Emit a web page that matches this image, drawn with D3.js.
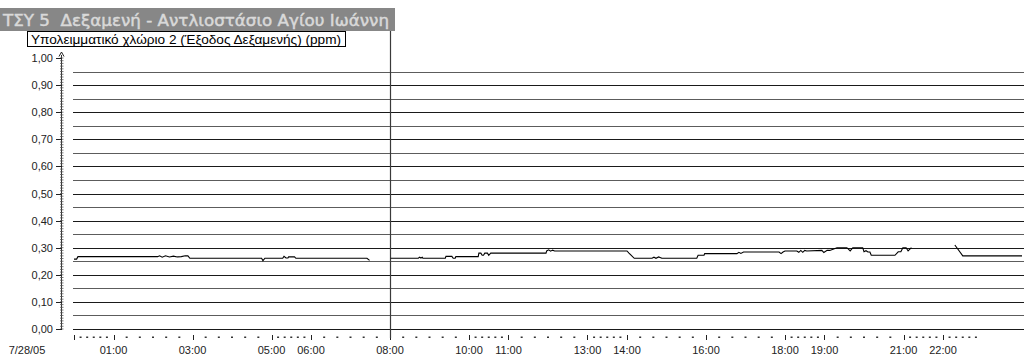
<!DOCTYPE html>
<html>
<head>
<meta charset="utf-8">
<script src="https://cdn.jsdelivr.net/npm/d3@7/dist/d3.min.js"></script>
<style>
  html, body { margin: 0; padding: 0; background: #fff; }
  svg { display: block; }
  text { font-family: "Liberation Sans", Arial, sans-serif; }
</style>
</head>
<body>
<svg id="chart" width="1024" height="356"></svg>
<script>
// Trend title, pen legend and axis labels
const titleText = "ΤΣΥ 5  Δεξαμενή - Αντλιοστάσιο Αγίου Ιωάννη";
const penLabel = "Υπολειμματικό χλώριο 2 (Έξοδος Δεξαμενής) (ppm)";
const dateLabel = "7/28/05";
const hourLabels = ["01:00", "03:00", "05:00", "06:00", "08:00", "10:00", "11:00",
                    "13:00", "14:00", "16:00", "18:00", "19:00", "21:00", "22:00"];
const yTicks = [0, 0.1, 0.2, 0.3, 0.4, 0.5, 0.6, 0.7, 0.8, 0.9, 1.0];
const yHalfTicks = [0.05, 0.15, 0.25, 0.35, 0.45, 0.55, 0.65, 0.75, 0.85, 0.95];

// Residual chlorine readings (ppm), three logged segments separated by gaps
const seg1Times = ["00:00", "00:04", "00:06", "02:07", "02:10", "02:14", "02:19", "02:25", "02:31",
                   "02:37", "02:43", "02:49", "02:53", "02:56", "04:45", "04:47", "04:50", "05:17",
                   "05:19", "05:22", "05:25", "05:26", "05:35", "05:37", "07:25", "07:29"];
const seg1Values = [0.258, 0.258, 0.267, 0.267, 0.270, 0.265, 0.270, 0.266, 0.269,
                    0.266, 0.267, 0.270, 0.270, 0.261, 0.261, 0.252, 0.261, 0.261,
                    0.268, 0.262, 0.262, 0.266, 0.266, 0.261, 0.261, 0.253];

const seg2Times = ["08:01", "08:43", "08:45", "08:47", "08:49", "08:50", "09:24", "09:25", "09:34",
                   "09:36", "09:39", "09:40", "10:14", "10:15", "10:18", "10:20", "10:22", "10:24",
                   "10:28", "10:30", "10:33", "11:57", "11:58", "12:01", "12:04", "12:07", "12:10",
                   "14:00", "14:03", "14:11", "14:38", "14:41", "14:44", "14:48", "14:53", "15:46",
                   "15:48", "15:57", "15:58", "16:47", "16:50", "16:53", "16:57", "17:51", "17:54",
                   "17:57", "18:00", "18:18", "18:21", "18:24", "18:27", "18:30", "18:33", "18:56",
                   "18:59", "19:04", "19:08", "19:19", "19:34", "19:39", "19:43", "19:58", "20:00",
                   "20:03", "20:06", "20:09", "20:11", "20:47", "20:52", "20:56", "20:59", "21:04",
                   "21:07", "21:12"];
const seg2Values = [0.261, 0.261, 0.265, 0.262, 0.265, 0.261, 0.261, 0.268, 0.268,
                    0.261, 0.261, 0.267, 0.267, 0.280, 0.280, 0.272, 0.272, 0.280,
                    0.280, 0.272, 0.280, 0.280, 0.288, 0.292, 0.287, 0.291, 0.288,
                    0.288, 0.280, 0.261, 0.261, 0.265, 0.261, 0.266, 0.261, 0.261,
                    0.272, 0.272, 0.278, 0.278, 0.283, 0.279, 0.284, 0.284, 0.278,
                    0.284, 0.288, 0.288, 0.283, 0.290, 0.283, 0.290, 0.288, 0.290,
                    0.282, 0.290, 0.290, 0.300, 0.300, 0.288, 0.300, 0.300, 0.285,
                    0.289, 0.284, 0.284, 0.272, 0.272, 0.285, 0.285, 0.300, 0.300,
                    0.288, 0.300];

const seg3Times = ["22:18", "22:30", "24:00"];
const seg3Values = [0.310, 0.270, 0.270];

// Minor tick positions on the time axis (ten-minute steps between one-hour labels,
// twenty-minute steps between two-hour labels)
const timeTickMarks = [];

const svg = d3.select("#chart");

const toHours = s => { const [h, m] = s.split(":").map(Number); return h + m / 60; };

const x = d3.scaleLinear().domain([0, 24]).range([74, 1022]);
const y = d3.scaleLinear().domain([0, 1]).range([329, 58]);

const commaFmt = d3.formatLocale({ decimal: ",", thousands: ".", grouping: [3], currency: ["", ""] }).format(".2f");

// --- title bar ---
svg.append("rect").attr("x", 0).attr("y", 8).attr("width", 395).attr("height", 23)
  .attr("fill", "#878787");
svg.append("text").attr("x", 3).attr("y", 26)
  .attr("fill", "#d9d9d9").attr("stroke", "#d9d9d9").attr("stroke-width", 0.45)
  .style("font-family", "'DejaVu Sans', Verdana, sans-serif")
  .style("font-size", "15px").style("font-weight", "normal")
  .style("white-space", "pre")
  .attr("textLength", 386).attr("lengthAdjust", "spacingAndGlyphs")
  .text(titleText);

// --- horizontal grid lines ---
const grid = svg.append("g");
grid.selectAll("line.half").data(yHalfTicks).join("line")
  .attr("class", "half")
  .attr("x1", 73).attr("x2", 1024)
  .attr("y1", d => Math.round(y(d)) + 0.5).attr("y2", d => Math.round(y(d)) + 0.5)
  .attr("stroke", "#5c5c5c").attr("stroke-width", 1.2);
grid.selectAll("line.major").data(yTicks.filter(d => d < 1)).join("line")
  .attr("class", "major")
  .attr("x1", 73).attr("x2", 1024)
  .attr("y1", d => Math.round(y(d)) + 0.5).attr("y2", d => Math.round(y(d)) + 0.5)
  .attr("stroke", "#1a1a1a").attr("stroke-width", 1.1);

// --- y axis (ruler style) ---
const yAxisG = svg.append("g");
yAxisG.append("line").attr("x1", 61.5).attr("x2", 61.5)
  .attr("y1", y(1) - 3).attr("y2", y(0)).attr("stroke", "#333").attr("stroke-width", 1);
const hundredths = d3.range(0, 101).map(i => i / 100);
yAxisG.selectAll("line.minor").data(hundredths).join("line")
  .attr("class", "minor")
  .attr("x1", 60).attr("x2", 63.5)
  .attr("y1", d => y(d)).attr("y2", d => y(d))
  .attr("stroke", "#555").attr("stroke-width", 0.8);
yAxisG.selectAll("line.tick").data(yTicks).join("line")
  .attr("class", "tick")
  .attr("x1", 56).attr("x2", 62)
  .attr("y1", d => Math.round(y(d)) + 0.5).attr("y2", d => Math.round(y(d)) + 0.5)
  .attr("stroke", "#222").attr("stroke-width", 1);
yAxisG.append("path")
  .attr("d", `M61.5,${y(1) - 6} L59,${y(1) - 1.5} M61.5,${y(1) - 6} L64,${y(1) - 1.5}`)
  .attr("stroke", "#222").attr("fill", "none").attr("stroke-width", 1);
yAxisG.selectAll("text").data(yTicks).join("text")
  .attr("x", 53).attr("y", d => y(d) + 4)
  .attr("text-anchor", "end")
  .style("font-size", "11px").attr("fill", "#222")
  .text(d => commaFmt(d));

// --- time axis ticks and labels ---
const labelHours = hourLabels.map(toHours);
const bounds = [0].concat(labelHours);
for (let i = 0; i < bounds.length - 1; i++) {
  const a = bounds[i], b = bounds[i + 1];
  for (let k = 1; k < 6; k++) timeTickMarks.push(a + (b - a) * k / 6);
}
for (let k = 1; k < 6; k++) timeTickMarks.push(22 + k / 6);

const xAxisG = svg.append("g");
xAxisG.selectAll("rect.minor").data(timeTickMarks).join("rect")
  .attr("class", "minor")
  .attr("x", d => x(d) - 1).attr("y", 336.5)
  .attr("width", 2).attr("height", 1.5).attr("fill", "#333");
xAxisG.selectAll("line.major").data([0].concat(labelHours)).join("line")
  .attr("class", "major")
  .attr("x1", d => Math.round(x(d)) + 0.5).attr("x2", d => Math.round(x(d)) + 0.5)
  .attr("y1", 335).attr("y2", 340)
  .attr("stroke", "#222").attr("stroke-width", 1);
xAxisG.selectAll("text.hour").data(hourLabels).join("text")
  .attr("class", "hour")
  .attr("x", d => x(toHours(d))).attr("y", 354)
  .attr("text-anchor", "middle")
  .style("font-size", "11px").attr("fill", "#222")
  .text(d => d);
xAxisG.append("text").attr("x", 27).attr("y", 354)
  .attr("text-anchor", "middle")
  .style("font-size", "11px").attr("fill", "#222")
  .text(dateLabel);

// --- cursor line at 08:00 ---
svg.append("line")
  .attr("x1", Math.round(x(8)) + 0.5).attr("x2", Math.round(x(8)) + 0.5)
  .attr("y1", 31).attr("y2", 338)
  .attr("stroke", "#3a3a3a").attr("stroke-width", 1.2);

// --- data trace ---
const line = d3.line().x(d => x(d[0])).y(d => y(d[1]));
const segments = [
  seg1Times.map((t, i) => [toHours(t), seg1Values[i]]),
  seg2Times.map((t, i) => [toHours(t), seg2Values[i]]),
  seg3Times.map((t, i) => [toHours(t), seg3Values[i]])
];
svg.append("g").selectAll("path").data(segments).join("path")
  .attr("d", line)
  .attr("fill", "none").attr("stroke", "#000").attr("stroke-width", 1.1);

// --- pen legend ---
svg.append("rect").attr("x", 27.5).attr("y", 31.5).attr("width", 318).attr("height", 15)
  .attr("fill", "#fff").attr("stroke", "#000").attr("stroke-width", 1);
svg.append("text").attr("x", 31).attr("y", 43.5)
  .style("font-size", "12px").attr("fill", "#000")
  .attr("textLength", 310).attr("lengthAdjust", "spacingAndGlyphs")
  .text(penLabel);
</script>
</body>
</html>
